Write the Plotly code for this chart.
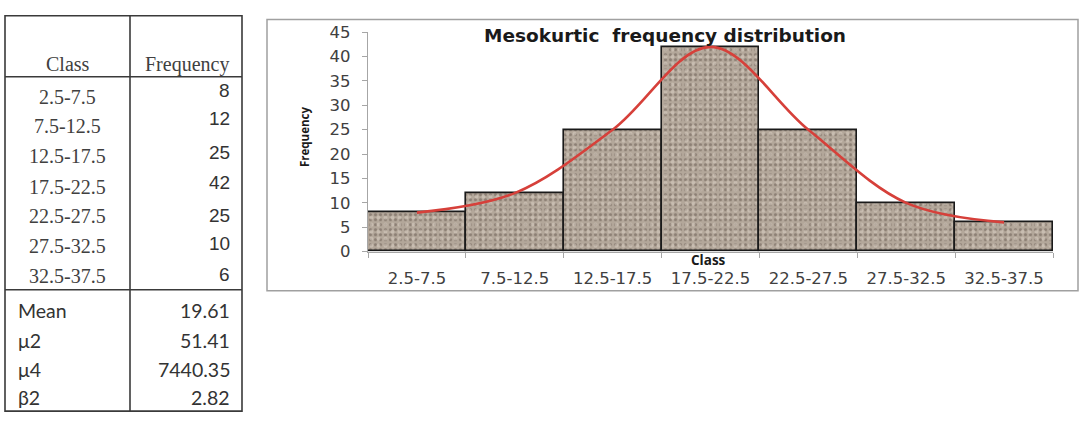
import plotly.graph_objects as go

# ---- data ----
classes = ["2.5-7.5", "7.5-12.5", "12.5-17.5", "17.5-22.5", "22.5-27.5", "27.5-32.5", "32.5-37.5"]
frequency = [8, 12, 25, 42, 25, 10, 6]
stat_names = ["Mean", "\u03bc2", "\u03bc4", "\u03b22"]
stat_values = [19.61, 51.41, 7440.35, 2.82]
y_ticks = [0, 5, 10, 15, 20, 25, 30, 35, 40, 45]

W, H = 1080, 423


def px(x):
    return x / W


def py(y):
    return 1 - y / H


fig = go.Figure()

# histogram bars: dark speckle base ...
fig.add_trace(go.Bar(
    x=classes, y=frequency, width=1,
    marker=dict(
        color="#b3a79a",
        line=dict(width=0),
        pattern=dict(shape=".", fgcolor="#65584d", bgcolor="#b3a79a",
                     size=5, solidity=0.3),
    ),
    hoverinfo="skip", showlegend=False,
))
# ... with a lighter speckle layer and the black outline on top
fig.add_trace(go.Bar(
    x=classes, y=frequency, width=1,
    marker=dict(
        color="rgba(0,0,0,0)",
        line=dict(color="#1a1a1a", width=1.6),
        pattern=dict(shape=".", fgcolor="#ddd3c7", bgcolor="rgba(0,0,0,0)",
                     size=7, solidity=0.25),
    ),
    hoverinfo="skip", showlegend=False,
))

# smoothed frequency curve
fig.add_trace(go.Scatter(
    x=classes, y=frequency, mode="lines",
    line=dict(color="#d6403a", width=2.6, shape="spline", smoothing=1.0),
    hoverinfo="skip", showlegend=False,
))

axis_grey = "#a6a6a6"
tick_font = dict(family="DejaVu Sans", size=16.5, color="#404040")

fig.update_layout(
    width=W, height=H,
    margin=dict(l=0, r=0, t=0, b=0),
    paper_bgcolor="white", plot_bgcolor="white",
    barmode="overlay", bargap=0, showlegend=False, hovermode=False,
    xaxis=dict(
        domain=[px(368), px(1053)],
        type="category", showgrid=False, zeroline=False,
        showline=True, linecolor=axis_grey, linewidth=1.2,
        ticks="outside", tickson="boundaries", ticklen=5, tickcolor=axis_grey,
        tickfont=tick_font, ticklabelstandoff=12,
    ),
    yaxis=dict(
        domain=[py(254), py(24.3)],
        range=[0, 45], tickvals=y_ticks, showgrid=False, zeroline=False,
        showline=True, linecolor=axis_grey, linewidth=1.2,
        ticks="outside", ticklen=5, tickcolor=axis_grey,
        tickfont=tick_font, ticklabelstandoff=8,
    ),
)

shapes = []
annotations = []

# chart frame
shapes.append(dict(type="rect", xref="paper", yref="paper",
                   x0=px(267), x1=px(1078), y0=py(295), y1=py(11),
                   line=dict(color="#a0a0a0", width=1.5), layer="below"))

# chart title and axis titles
annotations.append(dict(text="<b>Mesokurtic  frequency distribution</b>",
                        xref="paper", yref="paper", x=px(665), y=py(28),
                        xanchor="center", yanchor="middle", showarrow=False,
                        font=dict(family="DejaVu Sans", size=18.5, color="#1a1a1a")))
annotations.append(dict(text="<b>Class</b>", xref="paper", yref="paper",
                        x=px(708), y=py(262.5), xanchor="center", yanchor="middle",
                        showarrow=False,
                        font=dict(family="Open Sans", size=13.5, color="#1a1a1a")))
annotations.append(dict(text="<b>Frequency</b>", xref="paper", yref="paper",
                        x=px(305), y=py(134), xanchor="center", yanchor="middle",
                        textangle=-90, showarrow=False,
                        font=dict(family="Open Sans", size=11.5, color="#1a1a1a")))

# ---- frequency table ----
line_col = "#3a3a3a"
tbl_left, tbl_mid, tbl_right = 5, 130, 242
tbl_top, tbl_head, tbl_split, tbl_bottom = 7, 71, 294, 421

shapes.append(dict(type="rect", xref="paper", yref="paper",
                   x0=px(tbl_left), x1=px(tbl_right), y0=py(tbl_bottom), y1=py(tbl_top),
                   line=dict(color=line_col, width=1.6)))
shapes.append(dict(type="line", xref="paper", yref="paper",
                   x0=px(tbl_mid), x1=px(tbl_mid), y0=py(tbl_bottom), y1=py(tbl_top),
                   line=dict(color=line_col, width=1.6)))
for yy in (tbl_head, tbl_split):
    shapes.append(dict(type="line", xref="paper", yref="paper",
                       x0=px(tbl_left), x1=px(tbl_right), y0=py(yy), y1=py(yy),
                       line=dict(color=line_col, width=1.6)))

serif = dict(family="Liberation Serif", size=20, color="#404040")
sans = dict(family="Liberation Sans", size=19, color="#333333")
calib = dict(family="Lato", size=19.5, color="#333333")

annotations.append(dict(text="Class", xref="paper", yref="paper", x=px(68), y=py(58),
                        xanchor="center", yanchor="middle", showarrow=False, font=serif))
annotations.append(dict(text="Frequency", xref="paper", yref="paper", x=px(187), y=py(58),
                        xanchor="center", yanchor="middle", showarrow=False, font=serif))

class_rows = [92, 122, 154, 186, 217, 248, 280]
freq_rows = [85, 115, 150, 182, 216, 246, 278]
for c, f, yc, yf in zip(classes, frequency, class_rows, freq_rows):
    annotations.append(dict(text=c, xref="paper", yref="paper", x=px(67.5), y=py(yc),
                            xanchor="center", yanchor="middle", showarrow=False, font=serif))
    annotations.append(dict(text=str(f), xref="paper", yref="paper", x=px(232), y=py(yf),
                            xanchor="right", yanchor="middle", showarrow=False, font=sans))

stat_rows = [316, 347, 377, 407]
for name, val, ys in zip(stat_names, stat_values, stat_rows):
    annotations.append(dict(text=name, xref="paper", yref="paper", x=px(16), y=py(ys),
                            xanchor="left", yanchor="middle", showarrow=False, font=calib))
    annotations.append(dict(text=f"{val:.2f}", xref="paper", yref="paper", x=px(232), y=py(ys),
                            xanchor="right", yanchor="middle", showarrow=False, font=calib))

fig.update_layout(shapes=shapes, annotations=annotations)

# pin the graph to the top-left corner of the page
pin_js = ("document.documentElement.style.margin='0';"
          "document.body.style.margin='0';"
          "var gd=document.getElementById('{plot_id}');"
          "gd.style.position='fixed';gd.style.top='0px';gd.style.left='0px';")

fig.write_html("out.html", config=dict(displayModeBar=False), post_script=pin_js)
